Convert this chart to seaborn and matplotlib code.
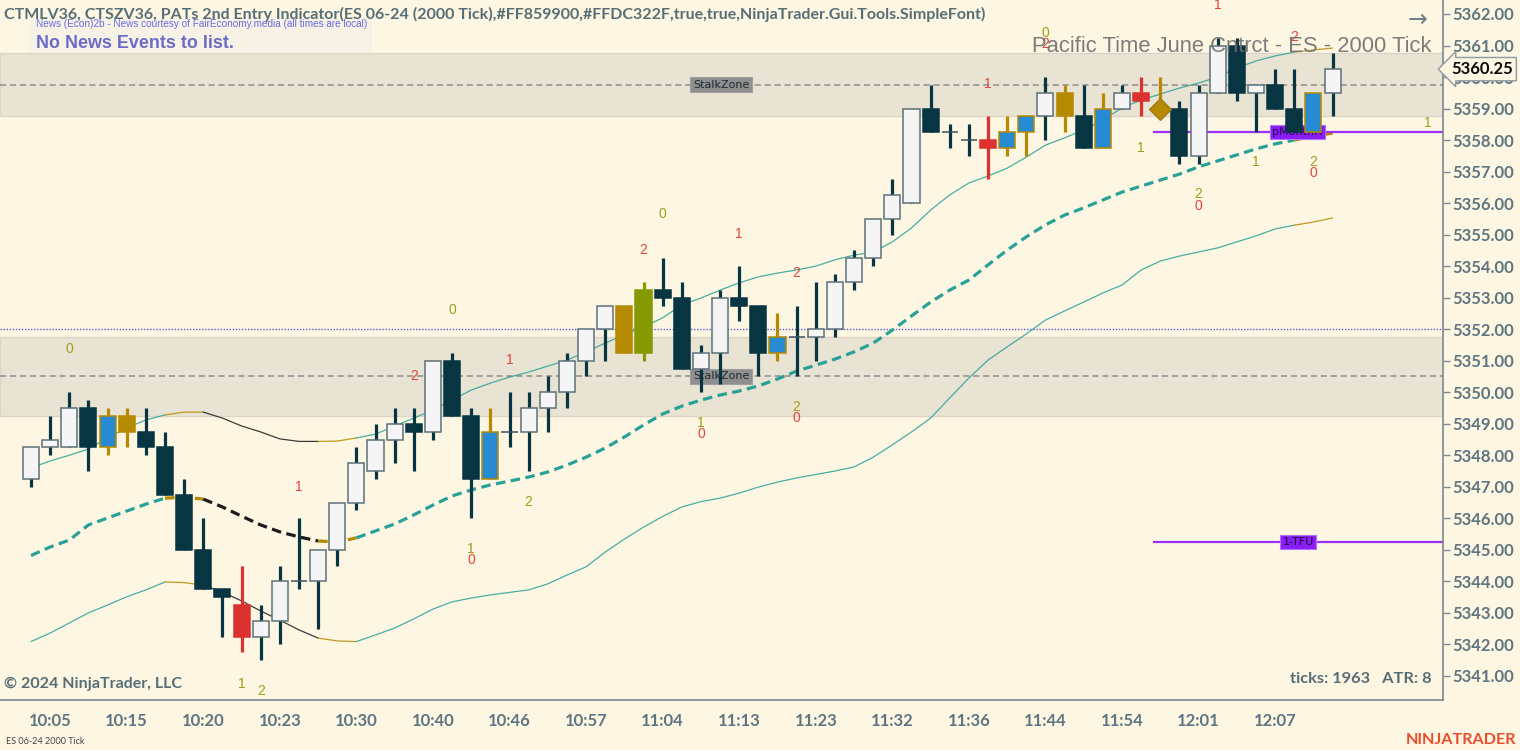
import numpy as np
import matplotlib
matplotlib.use("Agg")
import matplotlib.pyplot as plt
import matplotlib.transforms as mtrans
import seaborn as sns

# candles (2000 tick bars)
opens = [5347.25, 5348.25, 5348.25, 5349.50, 5348.25, 5348.75, 5348.75, 5348.25, 5346.75, 5345.00,
         5343.75, 5343.25, 5342.25, 5342.75, 5344.00, 5344.00, 5345.00, 5346.50, 5347.50, 5348.50,
         5349.00, 5348.75, 5351.00, 5349.25, 5347.25, 5348.75, 5348.75, 5349.50, 5350.00, 5351.00,
         5352.00, 5351.25, 5351.25, 5353.25, 5353.00, 5350.75, 5351.25, 5353.00, 5352.75, 5351.25,
         5351.75, 5351.75, 5352.00, 5353.50, 5354.25, 5355.50, 5356.00, 5359.00, 5358.25, 5358.00,
         5358.00, 5357.75, 5358.25, 5358.75, 5358.75, 5358.75, 5357.75, 5359.00, 5359.50, 5359.00,
         5359.00, 5357.50, 5359.50, 5361.00, 5359.50, 5359.75, 5359.00, 5358.25, 5359.50]
highs = [5348.25, 5349.25, 5350.00, 5349.75, 5349.50, 5349.50, 5349.50, 5348.75, 5347.25, 5346.00,
         5343.75, 5344.50, 5343.25, 5344.50, 5346.00, 5345.00, 5346.50, 5348.25, 5349.00, 5349.50,
         5349.50, 5351.00, 5351.25, 5349.50, 5349.50, 5350.00, 5350.00, 5350.50, 5351.25, 5352.00,
         5352.75, 5352.75, 5353.50, 5354.25, 5353.50, 5351.50, 5353.25, 5354.00, 5352.75, 5352.50,
         5352.75, 5353.50, 5353.75, 5354.50, 5355.50, 5356.75, 5359.00, 5359.75, 5358.50, 5358.50,
         5358.75, 5358.75, 5358.75, 5360.00, 5359.75, 5359.75, 5359.50, 5359.75, 5360.00, 5360.00,
         5359.25, 5359.75, 5361.25, 5361.25, 5359.75, 5360.25, 5360.25, 5359.50, 5360.75]
lows = [5347.00, 5348.00, 5348.25, 5347.50, 5348.00, 5348.25, 5348.00, 5346.75, 5345.00, 5343.75,
        5342.25, 5341.75, 5341.50, 5342.00, 5343.75, 5342.50, 5344.50, 5346.25, 5347.25, 5347.75,
        5347.50, 5348.50, 5349.25, 5346.00, 5347.25, 5348.25, 5347.50, 5348.75, 5349.50, 5350.50,
        5351.00, 5351.25, 5351.00, 5352.75, 5350.75, 5350.00, 5350.25, 5352.25, 5350.50, 5351.00,
        5350.50, 5351.00, 5351.75, 5353.25, 5354.00, 5355.00, 5356.00, 5358.25, 5357.75, 5357.50,
        5356.75, 5357.50, 5357.50, 5358.00, 5358.25, 5357.75, 5357.75, 5359.00, 5358.75, 5358.75,
        5357.25, 5357.25, 5359.50, 5359.25, 5358.25, 5359.00, 5358.25, 5358.25, 5358.75]
closes = [5348.25, 5348.50, 5349.50, 5348.25, 5349.25, 5349.25, 5348.25, 5346.75, 5345.00, 5343.75,
          5343.50, 5342.25, 5342.75, 5344.00, 5344.00, 5345.00, 5346.50, 5347.75, 5348.50, 5349.00,
          5348.75, 5351.00, 5349.25, 5347.25, 5348.75, 5348.75, 5349.50, 5350.00, 5351.00, 5352.00,
          5352.75, 5352.75, 5353.25, 5353.00, 5350.75, 5351.25, 5353.00, 5352.75, 5351.25, 5351.75,
          5351.75, 5352.00, 5353.50, 5354.25, 5355.50, 5356.25, 5359.00, 5358.25, 5358.25, 5358.00,
          5357.75, 5358.25, 5358.75, 5359.50, 5359.50, 5357.75, 5359.00, 5359.50, 5359.25, 5359.00,
          5357.50, 5359.50, 5361.00, 5359.50, 5359.75, 5359.00, 5358.25, 5359.50, 5360.25]
# bar paint: w=up, k=down, r=red, b=blue, g=gold, o=olive, d=doji, x=diamond
bar_kind = list("wwwkbgkkkkkrwwdwwwwwkwkkbdwwwwwgokkwwkkbdwwwwwwkddrbbwgkbwrxkwwkwkkbw")

# channel (upper / mid / lower)
upper = [5347.60, 5347.82, 5348.00, 5348.20, 5348.55, 5348.87, 5349.12, 5349.28, 5349.37, 5349.37,
         5349.18, 5348.93, 5348.74, 5348.52, 5348.44, 5348.44, 5348.45, 5348.55, 5348.67, 5348.93,
         5349.18, 5349.44, 5349.75, 5350.07, 5350.29, 5350.48, 5350.64, 5350.83, 5351.02, 5351.28,
         5351.56, 5351.82, 5352.07, 5352.36, 5352.77, 5352.99, 5353.24, 5353.47, 5353.66, 5353.78,
         5353.88, 5354.00, 5354.20, 5354.35, 5354.45, 5354.77, 5355.21, 5355.78, 5356.26, 5356.64,
         5356.86, 5357.11, 5357.46, 5357.84, 5358.07, 5358.32, 5358.64, 5359.02, 5359.27, 5359.46,
         5359.65, 5359.81, 5360.00, 5360.29, 5360.51, 5360.67, 5360.79, 5360.86, 5360.92]
mid = [5344.82, 5345.09, 5345.31, 5345.79, 5346.01, 5346.23, 5346.45, 5346.64, 5346.67, 5346.61,
       5346.36, 5346.07, 5345.79, 5345.57, 5345.41, 5345.28, 5345.25, 5345.38, 5345.60, 5345.82,
       5346.11, 5346.42, 5346.71, 5346.90, 5347.06, 5347.18, 5347.31, 5347.47, 5347.69, 5347.94,
       5348.23, 5348.58, 5348.96, 5349.31, 5349.56, 5349.75, 5349.91, 5350.04, 5350.20, 5350.42,
       5350.67, 5350.86, 5351.05, 5351.28, 5351.56, 5351.97, 5352.42, 5352.86, 5353.24, 5353.56,
       5354.04, 5354.51, 5354.93, 5355.31, 5355.62, 5355.85, 5356.10, 5356.35, 5356.54, 5356.73,
       5356.92, 5357.15, 5357.34, 5357.53, 5357.72, 5357.88, 5358.00, 5358.13, 5358.22]
lower = [5342.09, 5342.36, 5342.68, 5343.00, 5343.25, 5343.51, 5343.73, 5343.98, 5343.96, 5343.88,
         5343.66, 5343.38, 5343.06, 5342.77, 5342.46, 5342.20, 5342.11, 5342.09, 5342.30, 5342.52,
         5342.81, 5343.12, 5343.35, 5343.47, 5343.57, 5343.65, 5343.73, 5343.92, 5344.20, 5344.46,
         5344.93, 5345.34, 5345.72, 5346.06, 5346.36, 5346.53, 5346.64, 5346.80, 5346.99, 5347.15,
         5347.28, 5347.39, 5347.50, 5347.63, 5347.94, 5348.33, 5348.74, 5349.18, 5349.82, 5350.45,
         5351.02, 5351.44, 5351.85, 5352.29, 5352.58, 5352.86, 5353.15, 5353.40, 5353.88, 5354.16,
         5354.32, 5354.45, 5354.58, 5354.77, 5354.96, 5355.18, 5355.30, 5355.40, 5355.53]
# slope state of each segment: u=rising, f=flat, d=falling
trend = list("uuuuuuuffddddddffuuuuuuuuuuuuuuuuuuuuuuuuuuuuuuuuuuuuuuuuuuuuuuuuuff")

# levels
zone_hi = (5358.75, 5360.75, 5359.75)
zone_lo = (5349.25, 5351.75, 5350.50)
blue_level = 5352.00
pmonth_level = 5358.25
tfu_level = 5345.25
last_price = 5360.25

# PATs counts
lab_idx = [2, 20, 22, 25, 14, 26, 23, 23, 11, 12, 33, 32, 37, 40, 35, 35, 40, 40,
           50, 53, 53, 58, 61, 61, 64, 67, 67, 62, 66, 73]
lab_price = [5351.37, 5350.52, 5352.60, 5351.02, 5346.99, 5346.52, 5345.03, 5344.68, 5340.74, 5340.52,
             5355.65, 5354.51, 5355.02, 5353.78, 5349.02, 5348.67, 5349.53, 5349.18,
             5359.78, 5361.40, 5361.05, 5357.75, 5356.29, 5355.91, 5357.30, 5357.30, 5356.96,
             5362.29, 5361.27, 5358.54]
lab_text = ["0", "2", "0", "1", "1", "2", "1", "0", "1", "2", "0", "2", "1", "2", "1", "0", "2", "0",
            "1", "0", "2", "1", "2", "0", "1", "2", "0", "1", "2", "1"]
lab_kind = ["o", "r", "o", "r", "r", "o", "o", "r", "o", "o", "o", "r", "r", "r", "o", "r", "o", "r",
            "r", "o", "r", "o", "o", "r", "o", "o", "r", "r", "r", "o"]

time_labels = ["10:05", "10:15", "10:20", "10:23", "10:30", "10:40", "10:46", "10:57", "11:04",
               "11:13", "11:23", "11:32", "11:36", "11:44", "11:54", "12:01", "12:07"]

BG = "#FDF6E3"
DARK = "#073642"
GOLD = "#B58900"
TEAL = "#2AA198"
TXT = "#5f7680"

sns.set_style("white", {"axes.facecolor": BG, "figure.facecolor": BG})
plt.rcParams["font.family"] = ["Lato", "DejaVu Sans"]

fig = plt.figure(figsize=(15.2, 7.5), dpi=100)
ax = fig.add_axes([0, 50 / 750, 1443 / 1520, 700 / 750])
ax.set_facecolor(BG)

n = len(opens)
idx = np.arange(n)
o = np.array(opens); h = np.array(highs); l = np.array(lows); c = np.array(closes)

# zones
for lo_, hi_, midl in (zone_hi, zone_lo):
    ax.axhspan(lo_, hi_, fc="#E9E3D3", ec="#DCD5C5", lw=1, zorder=0)
    ax.axhline(midl, color="#8d8d8d", lw=1.1, ls=(0, (4, 2.5)), zorder=1)
    ax.text(36.05, midl, "StalkZone", ha="center", va="center", fontsize=8, color="#1e2a2e",
            family=["DejaVu Sans"],
            bbox=dict(boxstyle="square,pad=0.22", fc="#8f8f8f", ec="#a0a0a0", lw=0.8), zorder=2)
ax.axhline(blue_level, color="#5a5ad6", lw=1, ls=(0, (1, 1.2)), zorder=1)

# channel lines, coloured by slope
state_col = {"u": TEAL, "f": GOLD, "d": "#1b1b1b"}
for band, lw, dash in ((upper, 0.9, None), (lower, 0.9, None), (mid, 2.3, (3, 1.7))):
    vals = np.array(band)
    j = 0
    while j < n - 1:
        k = j
        while k < n - 1 and trend[k] == trend[j]:
            k += 1
        seg = slice(j, k + 1)
        kw = dict(x=idx[seg], y=vals[seg], ax=ax, color=state_col[trend[j]], lw=lw,
                  alpha=0.85 if dash is None else 1.0, zorder=2, legend=False)
        if dash is not None:
            kw["dashes"] = False
            line_ax = sns.lineplot(**kw)
            line_ax.lines[-1].set_dashes(dash)
        else:
            sns.lineplot(**kw)
        j = k

# purple levels
ax.hlines([pmonth_level, tfu_level], 58.6, 76, color="#9B30FF", lw=1.6, zorder=2)
ax.text(66.15, pmonth_level, "pMonthH", ha="center", va="center", fontsize=8, color="#2a0a40",
        family=["DejaVu Sans"], bbox=dict(boxstyle="square,pad=0.2", fc="#8A1CF7", ec="#B070FF", lw=0.8), zorder=2.5)
ax.text(66.2, tfu_level, "1-TFU", ha="center", va="center", fontsize=8, color="#1a0a2a",
        family=["DejaVu Sans"], bbox=dict(boxstyle="square,pad=0.2", fc="#8A1CF7", ec="#B070FF", lw=0.8), zorder=2.5)

# candles
face = {"w": "#F5F5F5", "k": DARK, "r": "#DC322F", "b": "#268BD2", "g": GOLD, "o": "#859900"}
edge = {"w": "#5d7179", "k": DARK, "r": "#DC322F", "b": GOLD, "g": GOLD, "o": "#859900"}
wick = {"w": DARK, "k": DARK, "d": DARK, "r": "#DC322F", "b": GOLD, "g": GOLD, "x": GOLD, "o": "#859900"}
ax.vlines(idx, l, h, colors=[wick[k] for k in bar_kind], lw=2.3, zorder=3)
body = np.array([k not in "dx" for k in bar_kind])
bot = np.minimum(o, c)
hgt = np.abs(c - o)
ax.bar(idx[body], hgt[body], bottom=bot[body], width=0.84,
       color=[face[k] for k, b in zip(bar_kind, body) if b],
       edgecolor=[edge[k] for k, b in zip(bar_kind, body) if b], lw=1.1, zorder=4)
doji = np.array([k == "d" for k in bar_kind])
ax.hlines(c[doji], idx[doji] - 0.42, idx[doji] + 0.42, color="#3d535b", lw=1.1, zorder=4)
dia = np.array([k == "x" for k in bar_kind])
ax.plot(idx[dia], c[dia], "D", ms=11, color=GOLD, mec="#9a7612", mew=0.8, zorder=4)

# counts
lab_col = {"r": "#E5453A", "o": "#A29C16"}
for xi, yp, t, k in zip(lab_idx, lab_price, lab_text, lab_kind):
    ax.text(xi, yp, t, ha="center", va="center", fontsize=10, color=lab_col[k],
            family=["Liberation Sans"], zorder=5)

# axes
ax.set_xlim(-1.62, 73.77)
ax.set_ylim(5340.236, 5362.444)
ax.yaxis.tick_right()
yt = np.arange(5341, 5363)
ax.set_yticks(yt)
ax.set_yticklabels([f"{v:.2f}" for v in yt])
ax.set_xticks(np.arange(1, 66, 4))
ax.set_xticklabels(time_labels)
ax.tick_params(axis="both", colors="#7a8a90", labelcolor=TXT, labelsize=12, length=5, width=1)
for lab in ax.get_xticklabels() + ax.get_yticklabels():
    lab.set_fontweight("bold")
ax.tick_params(axis="x", pad=4)
ax.tick_params(axis="y", pad=2)
for s in ("top", "left"):
    ax.spines[s].set_visible(False)
for s in ("right", "bottom"):
    ax.spines[s].set_color("#7a8a90")
    ax.spines[s].set_linewidth(1.2)

# last price flag
tr = mtrans.blended_transform_factory(ax.transAxes, ax.transData)
ax.text(1.0055, last_price, f"{last_price:.2f}", transform=tr, ha="left", va="center", fontsize=12,
        fontweight="bold", color="#0a0a0a", zorder=10, clip_on=False,
        bbox=dict(boxstyle="larrow,pad=0.22", fc=BG, ec="#8a9aa0", lw=1))

# overlay texts
fig.text(4 / 1520, 1 - 14 / 750, "CTMLV36, CTSZV36, PATs 2nd Entry Indicator(ES 06-24 (2000 Tick),#FF859900,"
         "#FFDC322F,true,true,NinjaTrader.Gui.Tools.SimpleFont)", ha="left", va="center",
         fontsize=11.5, fontweight="bold", color="#586E75", zorder=6)
ax.add_patch(plt.Rectangle((30 / 1443, 1 - 52 / 700), 342 / 1443, 34 / 700, transform=ax.transAxes,
                           fc="#F6F2E6", ec="none", zorder=5))
fig.text(36 / 1520, 1 - 24 / 750, "News (Econ)2b - News courtesy of FairEconomy.media (all times are local)",
         ha="left", va="center", fontsize=7.2, color="#6a6adf", family=["Liberation Sans"], zorder=7)
fig.text(36 / 1520, 1 - 44 / 750, "No News Events to list.", ha="left", va="center", fontsize=12.9,
         fontweight="bold", color="#6b6bc9", family=["Liberation Sans"], zorder=7)
fig.text(1432 / 1520, 1 - 46 / 750, "Pacific Time June Cntrct - ES - 2000 Tick", ha="right", va="center",
         fontsize=15.8, color="#6f6f6f", alpha=0.9, family=["Liberation Sans"], zorder=8)
fig.text(1418 / 1520, 1 - 20 / 750, "\u2192", ha="center", va="center", fontsize=17, color="#6f7f85",
         family=["DejaVu Sans"])
fig.text(4 / 1520, 1 - 684 / 750, "\u00a9 2024 NinjaTrader, LLC", ha="left", va="center", fontsize=11.5,
         fontweight="bold", color="#586E75")
fig.text(1432 / 1520, 1 - 679 / 750, "ticks: 1963   ATR: 8", ha="right", va="center", fontsize=11.8,
         fontweight="bold", color="#586E75")
fig.text(6 / 1520, 1 - 741 / 750, "ES 06-24 2000 Tick", ha="left", va="center", fontsize=6.5, color="#444444")
fig.text(1516 / 1520, 1 - 740 / 750, "NINJATRADER", ha="right", va="center", fontsize=11.6,
         fontweight="bold", color="#E84E2C")

fig.savefig("out.png", dpi=100, facecolor=BG)
